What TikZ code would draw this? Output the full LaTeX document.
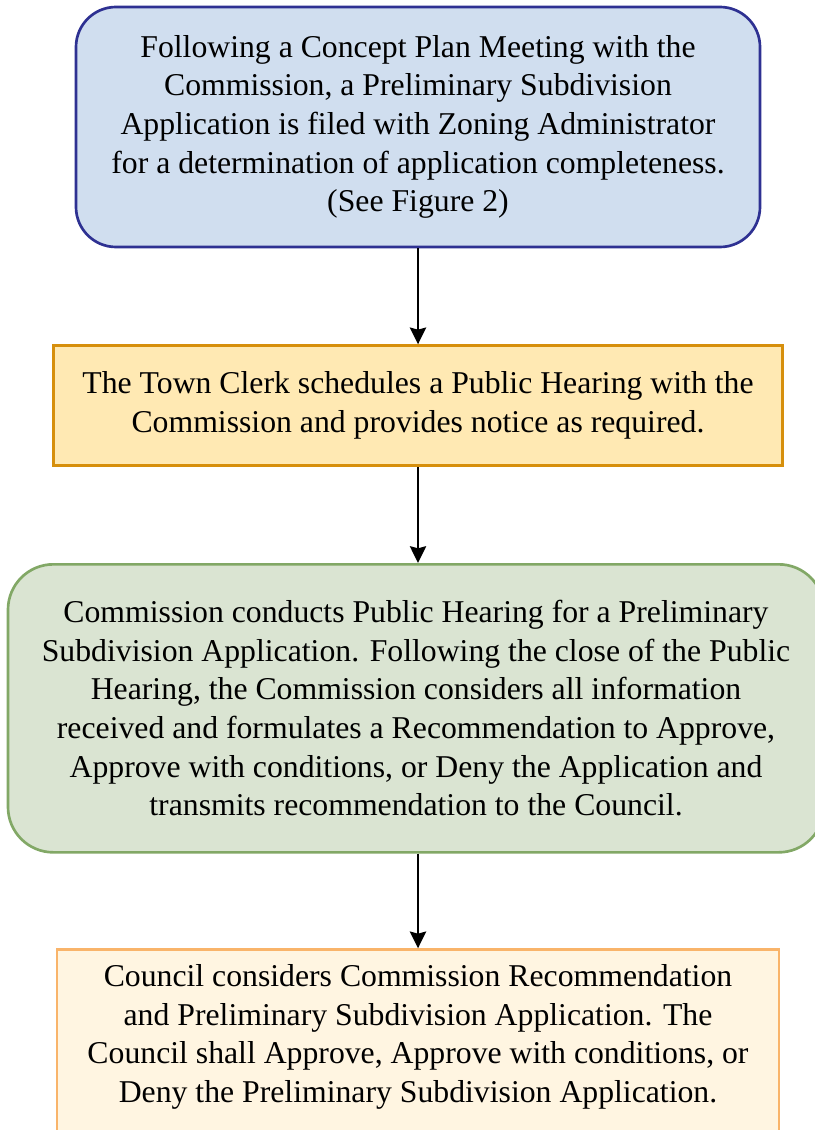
\documentclass[tikz,border=0pt]{standalone}
\usepackage{fontspec}
\setmainfont{Liberation Serif}
\usepackage{tikz}
\usetikzlibrary{arrows.meta,positioning}

\definecolor{bluefill}{HTML}{D0DEEF}
\definecolor{blueline}{HTML}{2E3192}
\definecolor{yellowfill}{HTML}{FFE9B3}
\definecolor{yellowline}{HTML}{D68F0C}
\definecolor{greenfill}{HTML}{DAE4D2}
\definecolor{greenline}{HTML}{82A866}
\definecolor{creamfill}{HTML}{FFF5E1}
\definecolor{creamline}{HTML}{F9B46A}

\begin{document}
\begin{tikzpicture}[>={Stealth[length=12.5pt,width=12pt,inset=1.5pt]},node distance=72pt,
  box node/.style={draw,align=center,font=\fontsize{23.8}{29}\selectfont,line width=2pt,inner sep=0pt},
  blue node/.style={box node,rounded corners=30pt,fill=bluefill,draw=blueline,minimum width=513pt,minimum height=180pt},
  yellow node/.style={box node,fill=yellowfill,draw=yellowline,minimum width=547pt,minimum height=90pt},
  green node/.style={box node,rounded corners=34pt,fill=greenfill,draw=greenline,minimum width=612pt,minimum height=216pt},
  cream node/.style={box node,fill=creamfill,draw=creamline,minimum width=541.5pt,inner ysep=11pt}]

  \useasboundingbox (0,0) rectangle (610.5pt,-847.5pt);

  \node[blue node] (plan) at (313.5pt,-95.25pt) {Following a Concept Plan Meeting with the\\
    Commission, a Preliminary Subdivision\\
    Application is filed with Zoning Administrator\\
    for a determination of application completeness.\\
    (See Figure 2)};
  \node[yellow node] (clerk) [below=of plan] {The Town Clerk schedules a Public Hearing with the\\
    Commission and provides notice as required.};
  \node[green node] (hearing) [below=of clerk, xshift=-1.5pt] {Commission conducts Public Hearing for a Preliminary\\
    Subdivision Application. Following the close of the Public\\
    Hearing, the Commission considers all information\\
    received and formulates a Recommendation to Approve,\\
    Approve with conditions, or Deny the Application and\\
    transmits recommendation to the Council.};
  \node[cream node, anchor=north] (council) [below=71pt of hearing, xshift=1.5pt] {Council considers Commission Recommendation\\
    and Preliminary Subdivision Application. The\\
    Council shall Approve, Approve with conditions, or\\
    Deny the Preliminary Subdivision Application.\\[30pt]~};

  \path[->,line width=2.2pt]
    (plan) edge (clerk)
    (clerk) edge (plan.south |- hearing.north)
    (hearing.south -| plan.south) edge (council);
\end{tikzpicture}
\end{document}
